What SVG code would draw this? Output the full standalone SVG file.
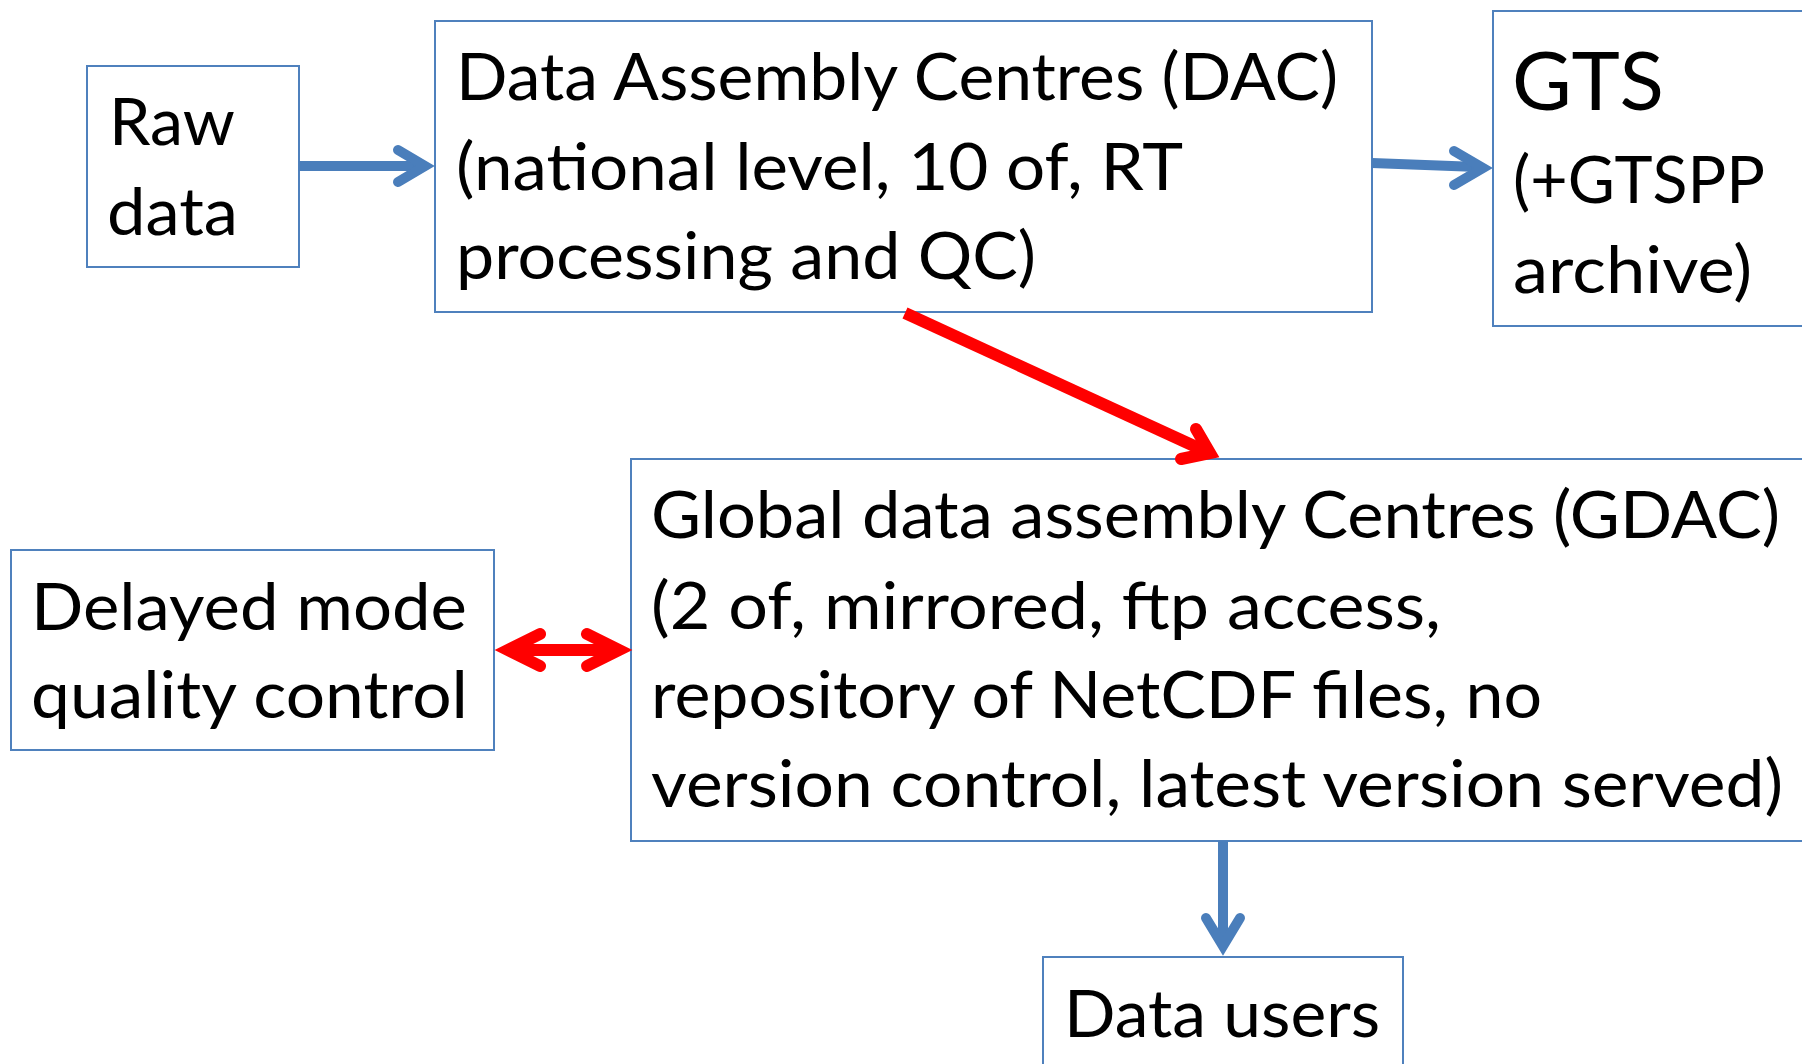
<svg xmlns="http://www.w3.org/2000/svg" width="1802" height="1064" viewBox="0 0 1802 1064">
<style>
.box{fill:#ffffff;stroke:#4F81BD;stroke-width:2}
.t{font-family:Lato,"Liberation Sans",sans-serif;font-size:66px;fill:#000000}
.big{font-size:82px}
.blue{fill:none;stroke:#4A7EBB;stroke-width:10;stroke-linecap:round;stroke-linejoin:miter}
.blue-shaft{fill:none;stroke:#4A7EBB;stroke-width:10}
.red{fill:none;stroke:#FF0000;stroke-width:12;stroke-linecap:round;stroke-linejoin:miter}
.red-shaft{fill:none;stroke:#FF0000;stroke-width:12}
</style>
<rect width="1802" height="1064" fill="#ffffff"/>
<g id="raw">
<rect class="box" x="87" y="66" width="212" height="201"/>
<text class="t" x="109" y="145" textLength="126" lengthAdjust="spacingAndGlyphs">Raw</text>
<text class="t" x="107" y="235" textLength="131" lengthAdjust="spacingAndGlyphs">data</text>
</g>
<g id="dac">
<rect class="box" x="435" y="21" width="937" height="291"/>
<text class="t" x="456" y="100" textLength="882" lengthAdjust="spacingAndGlyphs">Data Assembly Centres (DAC)</text>
<text class="t" x="456" y="190" textLength="727" lengthAdjust="spacingAndGlyphs">(national level, 10 of, RT</text>
<text class="t" x="456" y="279" textLength="580" lengthAdjust="spacingAndGlyphs">processing and QC)</text>
</g>
<g id="gts">
<rect class="box" x="1493" y="11" width="330" height="315"/>
<text class="t big" x="1512" y="110" textLength="152" lengthAdjust="spacingAndGlyphs">GTS</text>
<text class="t" x="1513" y="203" textLength="252" lengthAdjust="spacingAndGlyphs">(+GTSPP</text>
<text class="t" x="1513" y="293" textLength="239" lengthAdjust="spacingAndGlyphs">archive)</text>
</g>
<g id="delayed">
<rect class="box" x="11" y="550" width="483" height="200"/>
<text class="t" x="31" y="630" textLength="436" lengthAdjust="spacingAndGlyphs">Delayed mode</text>
<text class="t" x="31" y="718" textLength="437" lengthAdjust="spacingAndGlyphs">quality control</text>
</g>
<g id="gdac">
<rect class="box" x="631" y="459" width="1200" height="382"/>
<text class="t" x="651" y="538" textLength="1129" lengthAdjust="spacingAndGlyphs">Global data assembly Centres (GDAC)</text>
<text class="t" x="651" y="629" textLength="790" lengthAdjust="spacingAndGlyphs">(2 of, mirrored, ftp access,</text>
<text class="t" x="651" y="718" textLength="891" lengthAdjust="spacingAndGlyphs">repository of NetCDF files, no</text>
<text class="t" x="651" y="807" textLength="1132" lengthAdjust="spacingAndGlyphs">version control, latest version served)</text>
</g>
<g id="users">
<rect class="box" x="1043" y="957" width="360" height="120"/>
<text class="t" x="1064" y="1037" textLength="316" lengthAdjust="spacingAndGlyphs">Data users</text>
</g>
<g id="connectors">
<line class="blue-shaft" x1="299" y1="166" x2="420" y2="166"/>
<path class="blue" d="M398,150 L425,166 L398,182"/>
<line class="blue-shaft" x1="1372" y1="163" x2="1478" y2="167"/>
<path class="blue" d="M1454,151 L1483,168 L1454,185"/>
<line class="red-shaft" x1="905" y1="313" x2="1205" y2="451"/>
<path class="red" d="M1196,429 L1210,453 L1181,459"/>
<line class="red-shaft" x1="512" y1="650" x2="616" y2="650"/>
<path class="red" d="M540,634 L508,650 L540,666"/>
<path class="red" d="M587,634 L619,650 L587,666"/>
<line class="blue-shaft" x1="1223" y1="841" x2="1223" y2="942"/>
<path class="blue" d="M1206,918 L1223,946 L1240,918"/>
</g>
</svg>
